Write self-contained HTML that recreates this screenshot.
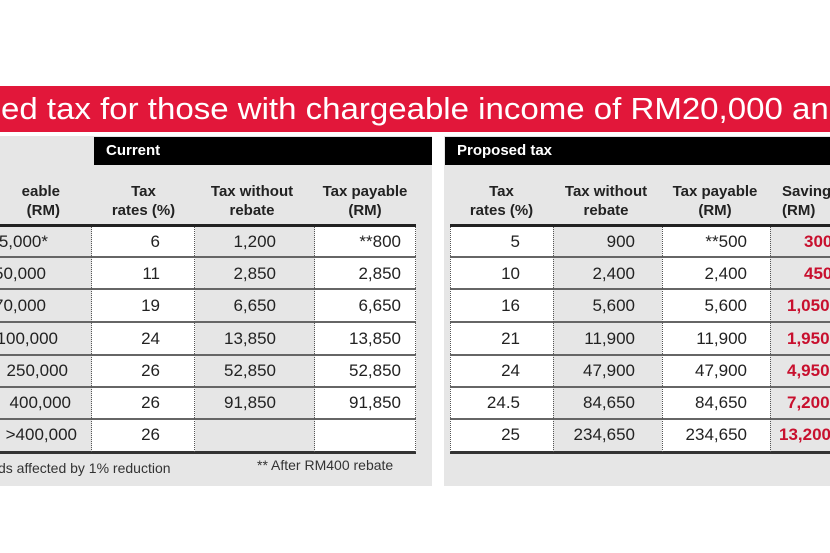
<!DOCTYPE html>
<html><head><meta charset="utf-8"><style>
*{margin:0;padding:0;box-sizing:border-box}
body{width:830px;height:553px;background:#fff;position:relative;overflow:hidden;font-family:"Liberation Sans",sans-serif;color:#222}
.abs{position:absolute}
.red{left:0;top:86px;width:830px;height:46px;background:#e2173a;overflow:hidden}
.red span{position:absolute;left:1px;top:0;color:#fff;font-size:31px;line-height:46px;white-space:nowrap;transform:scaleX(1.065);transform-origin:0 0}
.panel{background:#e6e6e6}
.bar{background:#000;color:#fff;font-weight:bold;font-size:15px;line-height:28px;padding-left:12px}
.hd{font-weight:bold;font-size:15px;text-align:center;line-height:19px;color:#222}
.cell{position:absolute;font-size:17px;line-height:32px;text-align:right;white-space:nowrap}
.hl{position:absolute;height:2px;background:#666}
.vl{position:absolute;width:0;border-left:1px dotted #555}
.sv{color:#c8102e;font-weight:bold}
</style></head><body>
<div class="abs red"><span>ed tax for those with chargeable income of RM20,000 and above</span></div>
<div class="abs panel" style="left:0;top:136px;width:432px;height:350px"></div>
<div class="abs panel" style="left:444px;top:136px;width:386px;height:350px"></div>
<div class="abs bar" style="left:94px;top:137px;width:338px;height:28px">Current</div>
<div class="abs bar" style="left:445px;top:137px;width:385px;height:28px">Proposed tax</div>

<div class="abs hd" style="left:-20px;top:182px;width:80px;text-align:right">eable<br>(RM)</div>
<div class="abs hd" style="left:92px;top:182px;width:103px">Tax<br>rates (%)</div>
<div class="abs hd" style="left:192px;top:182px;width:120px">Tax without<br>rebate</div>
<div class="abs hd" style="left:312px;top:182px;width:106px">Tax payable<br>(RM)</div>
<div class="abs hd" style="left:450px;top:182px;width:103px">Tax<br>rates (%)</div>
<div class="abs hd" style="left:551px;top:182px;width:110px">Tax without<br>rebate</div>
<div class="abs hd" style="left:660px;top:182px;width:110px">Tax payable<br>(RM)</div>
<div class="abs hd" style="left:770px;top:182px;width:80px;text-align:left;padding-left:12px">Savings<br>(RM)</div>

<div class="abs" style="left:92px;top:226px;width:103px;height:226px;background:#fff"></div>
<div class="abs" style="left:315px;top:226px;width:101px;height:226px;background:#fff"></div>
<div class="abs" style="left:450px;top:226px;width:103px;height:226px;background:#fff"></div>
<div class="abs" style="left:662px;top:226px;width:108px;height:226px;background:#fff"></div>

<div class="hl" style="left:0;top:224px;width:416px;height:3px;background:#222"></div>
<div class="hl" style="left:450px;top:224px;width:380px;height:3px;background:#222"></div>
<div class="hl" style="left:0;top:451px;width:416px;height:3px;background:#333"></div>
<div class="hl" style="left:450px;top:451px;width:380px;height:3px;background:#333"></div>
<div class="hl" style="left:0;top:256px;width:416px"></div><div class="hl" style="left:450px;top:256px;width:380px"></div>
<div class="hl" style="left:0;top:288px;width:416px"></div><div class="hl" style="left:450px;top:288px;width:380px"></div>
<div class="hl" style="left:0;top:321px;width:416px"></div><div class="hl" style="left:450px;top:321px;width:380px"></div>
<div class="hl" style="left:0;top:354px;width:416px"></div><div class="hl" style="left:450px;top:354px;width:380px"></div>
<div class="hl" style="left:0;top:386px;width:416px"></div><div class="hl" style="left:450px;top:386px;width:380px"></div>
<div class="hl" style="left:0;top:418px;width:416px"></div><div class="hl" style="left:450px;top:418px;width:380px"></div>
<div class="vl" style="left:91px;top:227px;height:225px"></div>
<div class="vl" style="left:194px;top:227px;height:225px"></div>
<div class="vl" style="left:314px;top:227px;height:225px"></div>
<div class="vl" style="left:415px;top:227px;height:225px"></div>
<div class="vl" style="left:450px;top:227px;height:225px"></div>
<div class="vl" style="left:553px;top:227px;height:225px"></div>
<div class="vl" style="left:662px;top:227px;height:225px"></div>
<div class="vl" style="left:770px;top:227px;height:225px"></div>

<div class="cell" style="left:-30px;width:78px;top:226px">25,000*</div>
<div class="cell" style="left:-30px;width:76px;top:258px">50,000</div>
<div class="cell" style="left:-30px;width:76px;top:290px">70,000</div>
<div class="cell" style="left:-30px;width:88px;top:323px">100,000</div>
<div class="cell" style="left:-30px;width:98px;top:355px">250,000</div>
<div class="cell" style="left:-30px;width:101px;top:387px">400,000</div>
<div class="cell" style="left:-30px;width:107px;top:419px">&gt;400,000</div>

<div class="cell" style="left:100px;width:60px;top:226px">6</div>
<div class="cell" style="left:100px;width:60px;top:258px">11</div>
<div class="cell" style="left:100px;width:60px;top:290px">19</div>
<div class="cell" style="left:100px;width:60px;top:323px">24</div>
<div class="cell" style="left:100px;width:60px;top:355px">26</div>
<div class="cell" style="left:100px;width:60px;top:387px">26</div>
<div class="cell" style="left:100px;width:60px;top:419px">26</div>

<div class="cell" style="left:195px;width:81px;top:226px">1,200</div>
<div class="cell" style="left:195px;width:81px;top:258px">2,850</div>
<div class="cell" style="left:195px;width:81px;top:290px">6,650</div>
<div class="cell" style="left:195px;width:81px;top:323px">13,850</div>
<div class="cell" style="left:195px;width:81px;top:355px">52,850</div>
<div class="cell" style="left:195px;width:81px;top:387px">91,850</div>

<div class="cell" style="left:315px;width:86px;top:226px">**800</div>
<div class="cell" style="left:315px;width:86px;top:258px">2,850</div>
<div class="cell" style="left:315px;width:86px;top:290px">6,650</div>
<div class="cell" style="left:315px;width:86px;top:323px">13,850</div>
<div class="cell" style="left:315px;width:86px;top:355px">52,850</div>
<div class="cell" style="left:315px;width:86px;top:387px">91,850</div>

<div class="cell" style="left:450px;width:70px;top:226px">5</div>
<div class="cell" style="left:450px;width:70px;top:258px">10</div>
<div class="cell" style="left:450px;width:70px;top:290px">16</div>
<div class="cell" style="left:450px;width:70px;top:323px">21</div>
<div class="cell" style="left:450px;width:70px;top:355px">24</div>
<div class="cell" style="left:450px;width:70px;top:387px">24.5</div>
<div class="cell" style="left:450px;width:70px;top:419px">25</div>

<div class="cell" style="left:553px;width:82px;top:226px">900</div>
<div class="cell" style="left:553px;width:82px;top:258px">2,400</div>
<div class="cell" style="left:553px;width:82px;top:290px">5,600</div>
<div class="cell" style="left:553px;width:82px;top:323px">11,900</div>
<div class="cell" style="left:553px;width:82px;top:355px">47,900</div>
<div class="cell" style="left:553px;width:82px;top:387px">84,650</div>
<div class="cell" style="left:553px;width:82px;top:419px">234,650</div>

<div class="cell" style="left:662px;width:85px;top:226px">**500</div>
<div class="cell" style="left:662px;width:85px;top:258px">2,400</div>
<div class="cell" style="left:662px;width:85px;top:290px">5,600</div>
<div class="cell" style="left:662px;width:85px;top:323px">11,900</div>
<div class="cell" style="left:662px;width:85px;top:355px">47,900</div>
<div class="cell" style="left:662px;width:85px;top:387px">84,650</div>
<div class="cell" style="left:662px;width:85px;top:419px">234,650</div>

<div class="cell sv" style="left:770px;width:100px;top:226px;text-align:left;padding-left:34px">300</div>
<div class="cell sv" style="left:770px;width:100px;top:258px;text-align:left;padding-left:34px">450</div>
<div class="cell sv" style="left:770px;width:100px;top:290px;text-align:left;padding-left:17px">1,050</div>
<div class="cell sv" style="left:770px;width:100px;top:323px;text-align:left;padding-left:17px">1,950</div>
<div class="cell sv" style="left:770px;width:100px;top:355px;text-align:left;padding-left:17px">4,950</div>
<div class="cell sv" style="left:770px;width:100px;top:387px;text-align:left;padding-left:17px">7,200</div>
<div class="cell sv" style="left:770px;width:100px;top:419px;text-align:left;padding-left:9px">13,200</div>

<div class="abs" style="left:-2px;top:460px;font-size:14px;white-space:nowrap;color:#333">ds affected by 1% reduction</div>
<div class="abs" style="left:257px;top:457px;font-size:14px;white-space:nowrap;color:#333">** After RM400 rebate</div>
</body></html>
